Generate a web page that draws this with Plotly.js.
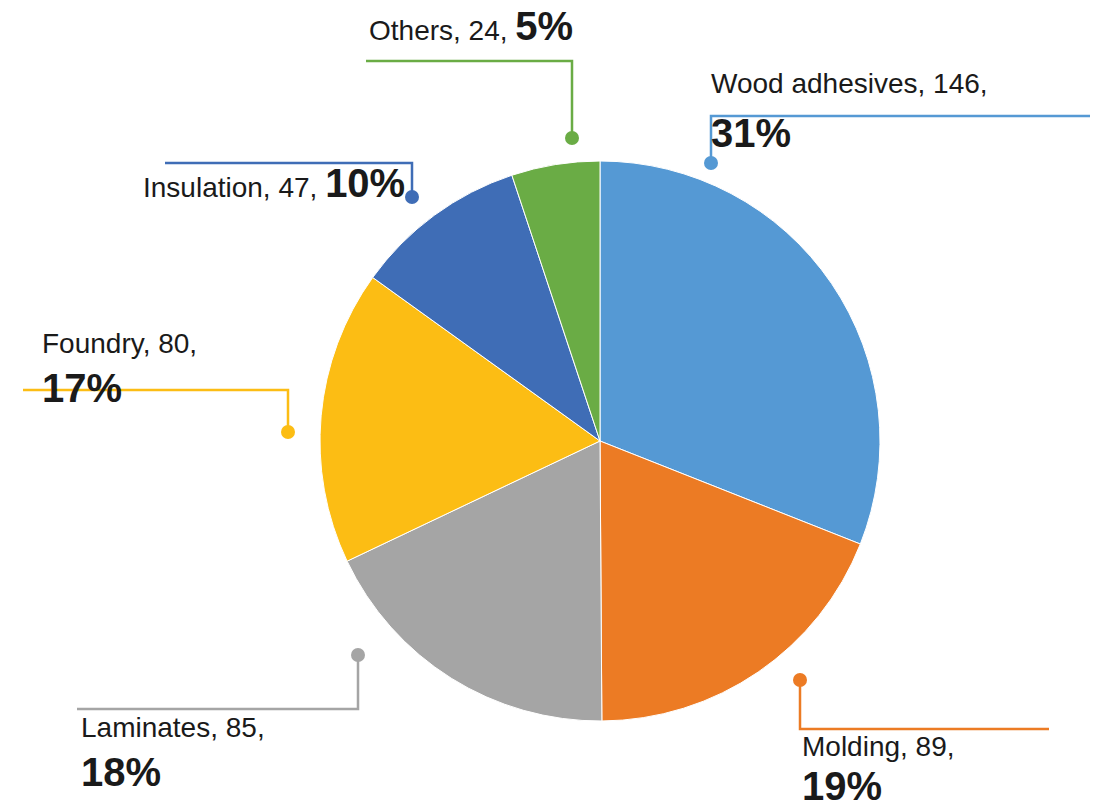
<!DOCTYPE html>
<html>
<head>
<meta charset="utf-8">
<script src="https://cdn.plot.ly/plotly-3.0.1.min.js"></script>
<style>html,body{margin:0;padding:0;background:#fff}#chart{width:1097px;height:808px}</style>
</head>
<body>
<div id="chart"></div>
<script>
const categories = ["Wood adhesives", "Molding", "Laminates", "Foundry", "Insulation", "Others"];
const values = [146, 89, 85, 80, 47, 24];
const colors = ["#5599D4", "#EC7B24", "#A5A5A5", "#FCBD14", "#3F6DB6", "#6AAC45"];

const W = 1097, H = 808;
const px = x => x / W;
const py = y => 1 - y / H;

const total = values.reduce((a, b) => a + b, 0);
const pct = values.map(v => Math.round(v / total * 100) + "%");

// label layout (pixel positions): dot, elbow y, line end x, text positions
const labelLayout = [
  {dot:[711,163], elbowY:116, endX:1090, line1:[709,84], line2:[709,133], split:true},
  {dot:[800,680], elbowY:729, endX:1049, line1:[800,746], line2:[800,786], split:true},
  {dot:[358,655], elbowY:709, endX:77,   line1:[79,727],  line2:[79,772],  split:true},
  {dot:[288,432], elbowY:390, endX:23,   line1:[40,344],  line2:[40,388],  split:true},
  {dot:[412,197], elbowY:163, endX:165,  line1:[141,183], split:false},
  {dot:[572,138], elbowY:61,  endX:366,  line1:[367,26],  split:false}
];

const shapes = [];
const annotations = [];
const normalFont = {family: "Liberation Sans, Arial, sans-serif", size: 28, color: "#1a1a1a"};
const boldFont = {family: "Liberation Sans, Arial, sans-serif", size: 40, color: "#1a1a1a"};

categories.forEach((c, i) => {
  const L = labelLayout[i];
  const col = colors[i];
  shapes.push({
    type: "path", xref: "paper", yref: "paper",
    path: `M ${px(L.dot[0])} ${py(L.dot[1])} L ${px(L.dot[0])} ${py(L.elbowY)} L ${px(L.endX)} ${py(L.elbowY)}`,
    line: {color: col, width: 2.5}
  });
  const r = 7;
  shapes.push({
    type: "circle", xref: "paper", yref: "paper",
    x0: px(L.dot[0] - r), x1: px(L.dot[0] + r), y0: py(L.dot[1] + r), y1: py(L.dot[1] - r),
    fillcolor: col, line: {color: col, width: 0}
  });
  if (L.split) {
    annotations.push({xref:"paper", yref:"paper", x:px(L.line1[0]), y:py(L.line1[1]), xanchor:"left", yanchor:"middle",
      text: `${c}, ${values[i]},`, showarrow:false, font: normalFont});
    annotations.push({xref:"paper", yref:"paper", x:px(L.line2[0]), y:py(L.line2[1]), xanchor:"left", yanchor:"middle",
      text: `<b>${pct[i]}</b>`, showarrow:false, font: boldFont});
  } else {
    annotations.push({xref:"paper", yref:"paper", x:px(L.line1[0]), y:py(L.line1[1]), xanchor:"left", yanchor:"middle",
      text: `${c}, ${values[i]}, <span style="font-size:40px"><b>${pct[i]}</b></span>`, showarrow:false, font: normalFont});
  }
});

const trace = {
  type: "pie",
  labels: categories,
  values: values,
  sort: false,
  direction: "clockwise",
  rotation: 0,
  marker: {colors: colors, line: {color: "#ffffff", width: 1}},
  textinfo: "none",
  hoverinfo: "none",
  showlegend: false,
  domain: {x: [px(320), px(880)], y: [py(721), py(161)]}
};

const layout = {
  width: W, height: H,
  margin: {l:0, r:0, t:0, b:0},
  paper_bgcolor: "#ffffff",
  showlegend: false,
  shapes: shapes,
  annotations: annotations
};

Plotly.newPlot("chart", [trace], layout, {displayModeBar: false, staticPlot: true});
</script>
</body>
</html>
